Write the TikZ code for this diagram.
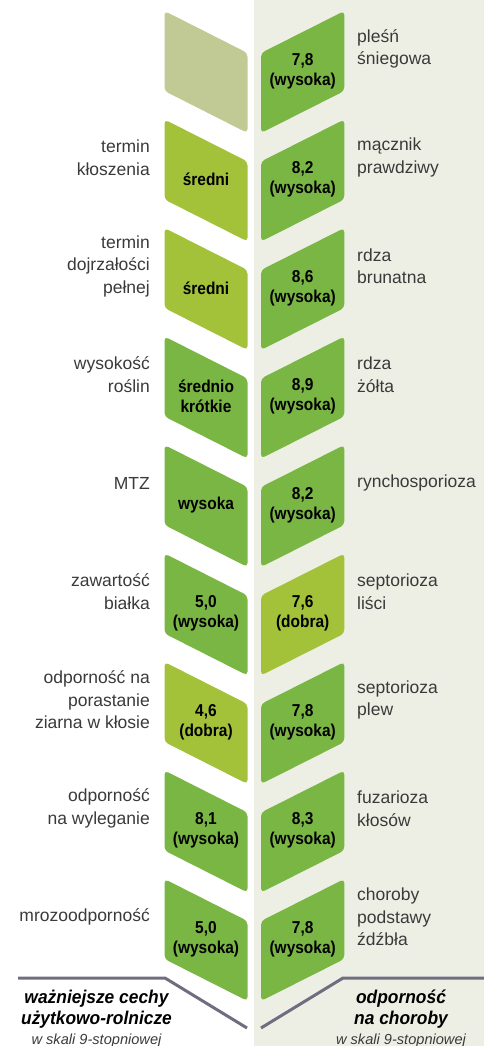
\documentclass[tikz,border=0pt]{standalone}
\usepackage{fontspec}
\setmainfont{Liberation Sans}
\newfontfamily\condfont[FakeStretch=0.9]{Liberation Sans}
\newfontfamily\titfam[FakeStretch=0.94]{Liberation Sans}
\definecolor{leafolive}{HTML}{C1C994}
\definecolor{leafgreen}{HTML}{7AB644}
\definecolor{leafyellow}{HTML}{A3C23A}
\definecolor{bgbeige}{HTML}{EEEFE4}
\definecolor{linegray}{HTML}{6E6E80}
\definecolor{labgray}{HTML}{3A3A3A}
\newcommand\labfont{\fontsize{17.5}{22.5}\selectfont}
\newcommand\valfont{\condfont\bfseries\fontsize{17.2}{20}\selectfont}
\newcommand\titfont{\titfam\bfseries\itshape\fontsize{18.5}{21}\selectfont}
\newcommand\subfont{\itshape\fontsize{14.6}{16}\selectfont}
\tikzset{
  leaf/.style={rounded corners=4pt},
  val/.style={font=\valfont, align=center, inner sep=0pt, text=black},
  llab/.style={font=\labfont, align=right, anchor=east, inner sep=0pt, text=labgray},
  rlab/.style={font=\labfont, align=left, anchor=west, inner sep=0pt, text=labgray},
  titlenode/.style={font=\titfont, align=center, anchor=north, inner sep=0pt, text=black},
  subnode/.style={font=\subfont, anchor=base, inner sep=0pt, text=labgray},
  rule/.style={draw=linegray, line width=3pt}
}
\newcommand\leafrow[7]{%
  \pgfmathsetmacro\cy{72+108.5*(#1-1)}
  \fill[#2, leaf] (164.5,\cy-61) -- (247.5,\cy-19) -- (247.5,\cy+61) -- (164.5,\cy+19) -- cycle;
  \fill[#4, leaf] (261,\cy-19) -- (344.3,\cy-61) -- (344.3,\cy+19) -- (261,\cy+61) -- cycle;
  \node[val] (lv#1) at (206,\cy-1) {#3};
  \node[val] (rv#1) at (302.7,\cy-1) {#5};
  \node[llab] (ll#1) at (150,\cy-23) {#6};
  \node[rlab] (rl#1) at (357,\cy-23) {#7};
}
\begin{document}
\begin{tikzpicture}[x=1pt,y=-1pt]
\useasboundingbox (0,0) rectangle (484,1046);
\fill[bgbeige] (254,0) rectangle (484,1046);
% row 1
\pgfmathsetmacro\cy{72}
\fill[leafolive, leaf] (164.5,\cy-61) -- (247.5,\cy-19) -- (247.5,\cy+61) -- (164.5,\cy+19) -- cycle;
\fill[leafgreen, leaf] (261,\cy-19) -- (344.3,\cy-61) -- (344.3,\cy+19) -- (261,\cy+61) -- cycle;
\node[val] (rv1) at (302.7,\cy-1) {7,8\\(wysoka)};
\node[rlab] (rl1) at (357,\cy-23) {pleśń\\śniegowa};
% rows 2-9
\leafrow{2}{leafyellow}{średni}{leafgreen}{8,2\\(wysoka)}{termin\\kłoszenia}{mącznik\\prawdziwy}
\leafrow{3}{leafyellow}{średni}{leafgreen}{8,6\\(wysoka)}{termin\\dojrzałości\\pełnej}{rdza\\brunatna}
\leafrow{4}{leafgreen}{średnio\\krótkie}{leafgreen}{8,9\\(wysoka)}{wysokość\\roślin}{rdza\\żółta}
\leafrow{5}{leafgreen}{wysoka}{leafgreen}{8,2\\(wysoka)}{MTZ}{rynchosporioza}
\leafrow{6}{leafgreen}{5,0\\(wysoka)}{leafyellow}{7,6\\(dobra)}{zawartość\\białka}{septorioza\\liści}
\leafrow{7}{leafyellow}{4,6\\(dobra)}{leafgreen}{7,8\\(wysoka)}{odporność na\\porastanie\\ziarna w kłosie}{septorioza\\plew}
\leafrow{8}{leafgreen}{8,1\\(wysoka)}{leafgreen}{8,3\\(wysoka)}{odporność\\na wyleganie}{fuzarioza\\kłosów}
\leafrow{9}{leafgreen}{5,0\\(wysoka)}{leafgreen}{7,8\\(wysoka)}{mrozoodporność}{choroby\\podstawy\\źdźbła}
% bottom rules
\draw[rule] (18,978) -- (165,978) -- (247,1028);
\draw[rule] (261,1028) -- (343,978) -- (484,978);
% titles
\node[titlenode] (lt) at (96.5,990) {ważniejsze cechy\\użytkowo-rolnicze};
\node[subnode] (ls) at (96.5,1044) {w skali 9-stopniowej};
\node[titlenode] (rt) at (401,990) {odporność\\na choroby};
\node[subnode] (rs) at (401,1044) {w skali 9-stopniowej};
\end{tikzpicture}
\end{document}
